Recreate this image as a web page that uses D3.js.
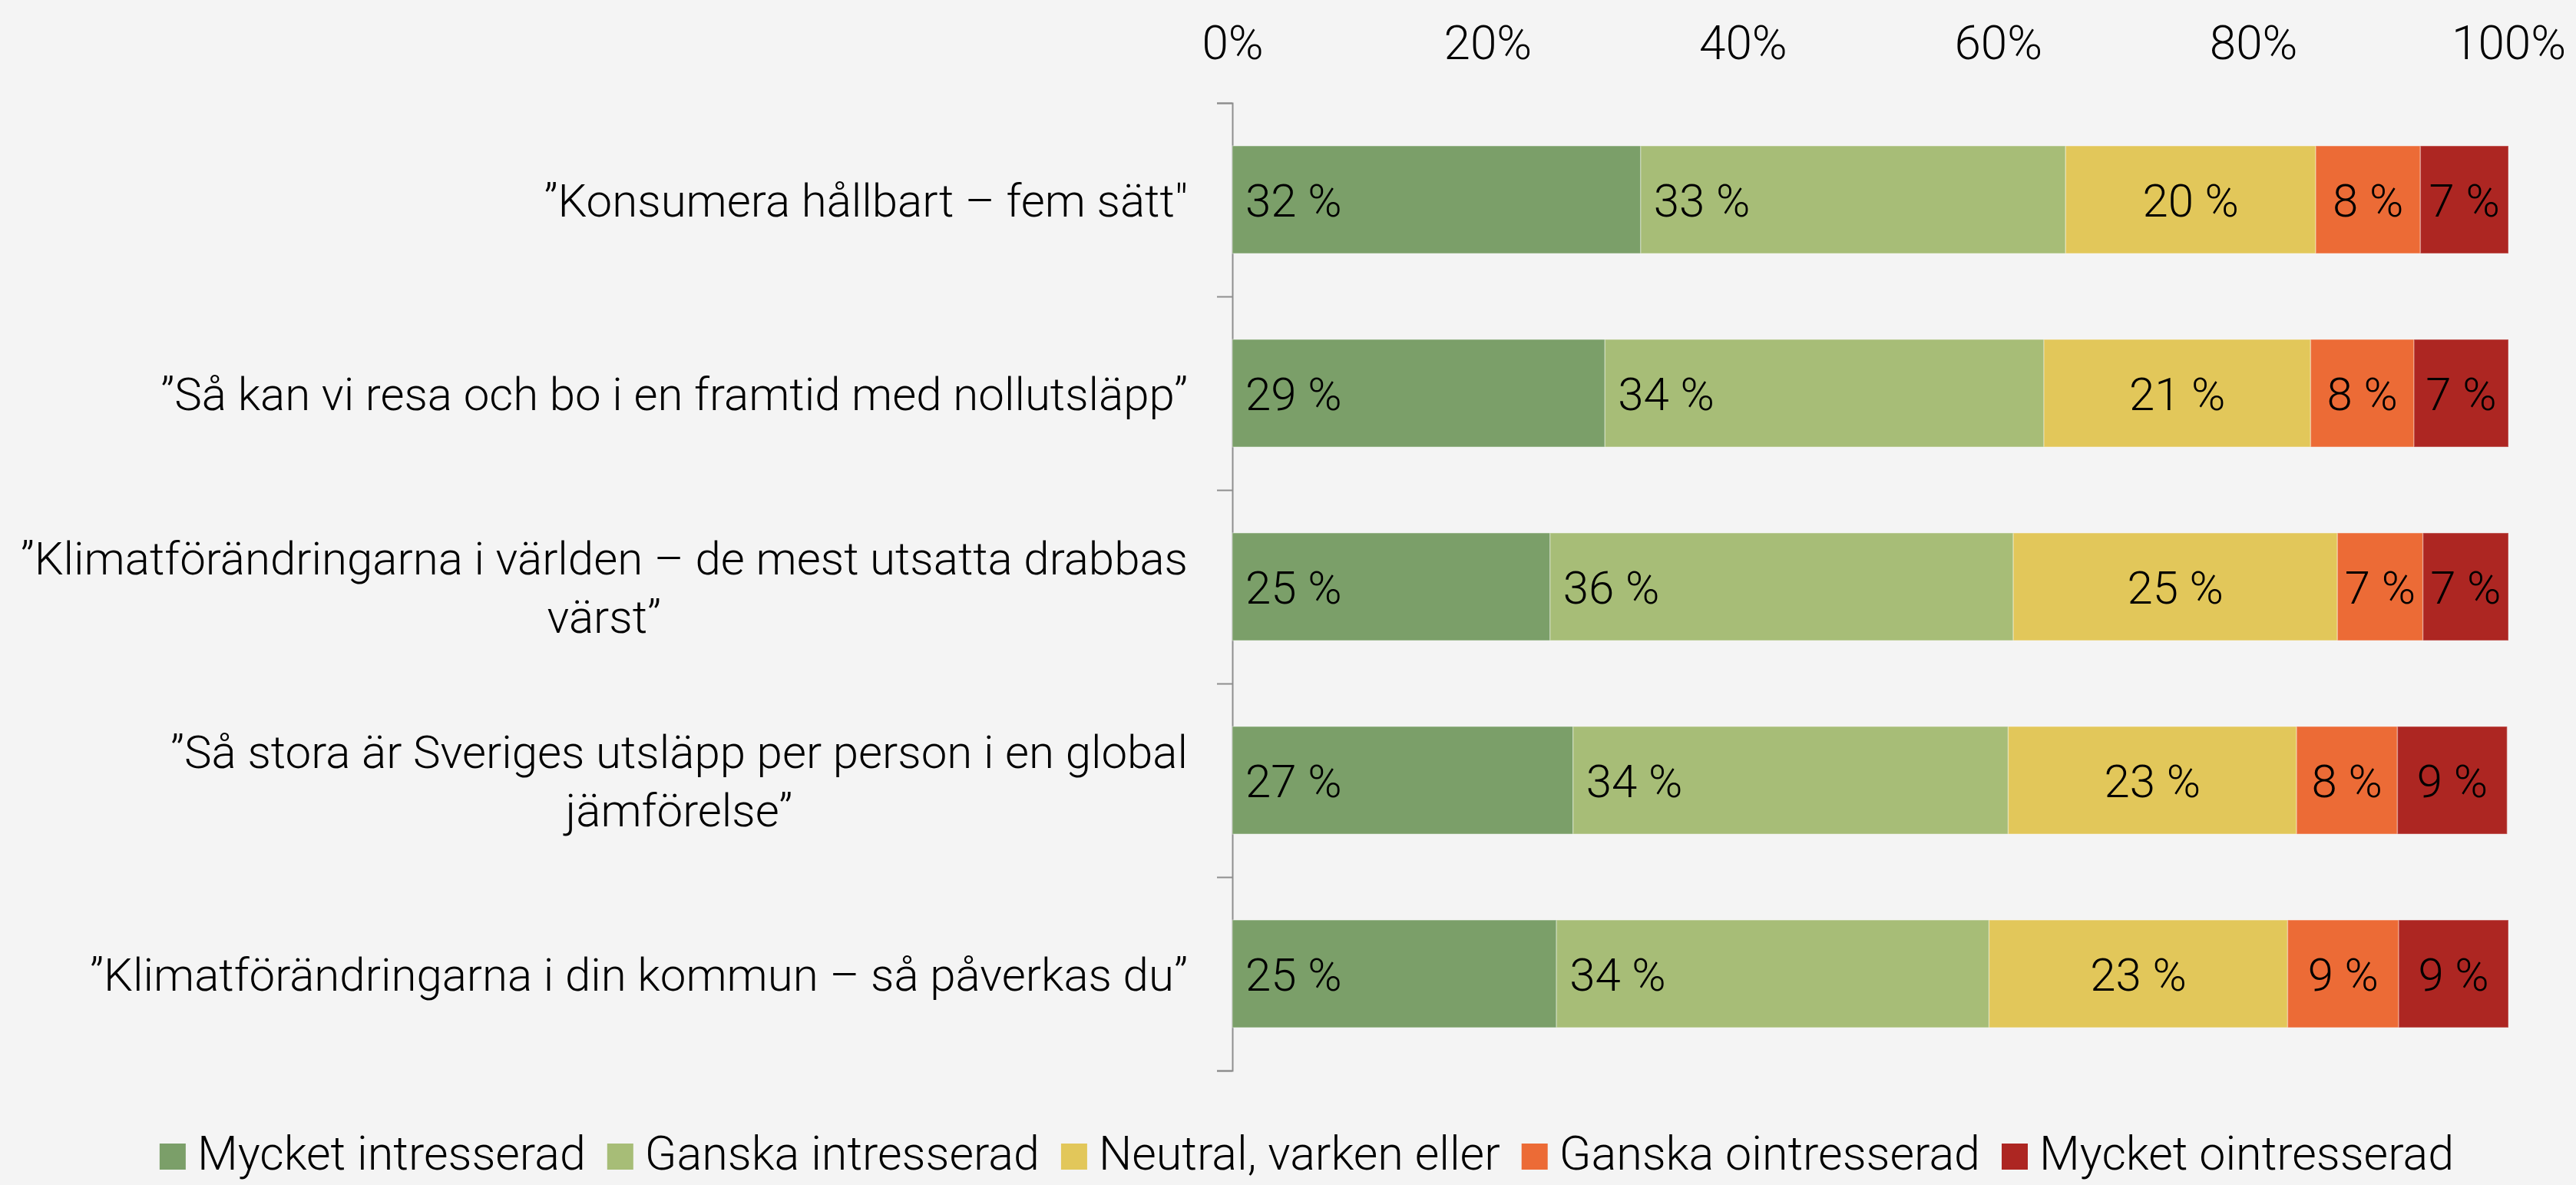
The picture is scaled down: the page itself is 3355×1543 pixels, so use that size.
<!DOCTYPE html>
<html>
<head>
<meta charset="utf-8">
<script src="https://cdn.jsdelivr.net/npm/d3@7"></script>
<style>
  html, body { margin: 0; padding: 0; background: #f4f4f4; }
  text { font-family: "Helvetica Neue", Roboto, "Liberation Sans", sans-serif; font-weight: 300; fill: #000; }
</style>
</head>
<body>
<div class="chart"></div>
<script>
var categories = [
  "”Konsumera hållbart – fem sätt\"",
  "”Så kan vi resa och bo i en framtid med nollutsläpp”",
  "”Klimatförändringarna i världen – de mest utsatta drabbas värst”",
  "”Så stora är Sveriges utsläpp per person i en global jämförelse”",
  "”Klimatförändringarna i din kommun – så påverkas du”"
];
var seriesNames = ["Mycket intresserad", "Ganska intresserad", "Neutral, varken eller", "Ganska ointresserad", "Mycket ointresserad"];
var mycketIntresserad = [32.0, 29.2, 24.9, 26.7, 25.4];
var ganskaIntresserad = [33.3, 34.4, 36.3, 34.1, 33.9];
var neutral = [19.6, 20.9, 25.4, 22.6, 23.4];
var ganskaOintresserad = [8.2, 8.1, 6.7, 7.9, 8.7];
var mycketOintresserad = [6.9, 7.4, 6.7, 8.6, 8.6];
var xTicks = [0, 20, 40, 60, 80, 100];
var colors = ["#7b9f69", "#a7bd77", "#e2c75a", "#ec6b36", "#ad2622"];

var seriesValues = [mycketIntresserad, ganskaIntresserad, neutral, ganskaOintresserad, mycketOintresserad];

var width = 3355, height = 1543;
var plotLeft = 1605, plotRight = 3267, plotTop = 134, plotBottom = 1394;
var labelRight = 1547, wrapWidth = 1545;

var svg = d3.select('div.chart').append('svg')
    .attr('width', width)
    .attr('height', height);

svg.append('rect').attr('width', width).attr('height', height).attr('fill', '#f4f4f4');

var xScale = d3.scaleLinear().domain([0, 100]).range([plotLeft, plotRight]);
var yScale = d3.scaleBand().domain(categories).range([plotTop, plotBottom])
    .paddingInner(0.444).paddingOuter(0.222);

// top axis, labels only
var xAxis = d3.axisTop(xScale).tickValues(xTicks).tickSize(0).tickFormat(function (d) { return d + "%"; });
var xg = svg.append('g').attr('transform', 'translate(0,77)').call(xAxis);
xg.select('.domain').remove();
xg.selectAll('text').attr('y', 0).attr('dy', 0)
  .style('font-size', '62px').style('font-family', null);

// left axis with ticks between the categories
var boundScale = d3.scaleLinear().domain([0, categories.length]).range([plotTop, plotBottom]);
var yAxis = d3.axisLeft(boundScale).tickValues(d3.range(categories.length + 1)).tickSize(20).tickSizeOuter(20).tickFormat("");
var yg = svg.append('g').attr('transform', 'translate(' + plotLeft + ',0)').call(yAxis);
yg.selectAll('path, line').attr('stroke', '#8e8e8e').attr('stroke-width', 2);

// stacked rows
var rows = categories.map(function (c, i) {
  var x0 = 0;
  return seriesValues.map(function (vals, s) {
    var seg = { cat: c, s: s, v: vals[i], x0: x0, x1: x0 + vals[i] };
    x0 += vals[i];
    return seg;
  });
});
var segs = d3.merge(rows);

svg.selectAll('rect.seg')
  .data(segs)
  .enter()
  .append('rect')
  .attr('class', 'seg')
  .attr('x', function (d) { return xScale(d.x0); })
  .attr('width', function (d) { return xScale(d.x1) - xScale(d.x0); })
  .attr('y', function (d) { return yScale(d.cat); })
  .attr('height', yScale.bandwidth())
  .attr('fill', function (d) { return colors[d.s]; })
  .attr('stroke', '#ffffff')
  .attr('stroke-opacity', 0.3)
  .attr('stroke-width', 1.5);

svg.selectAll('text.val')
  .data(segs)
  .enter()
  .append('text')
  .attr('class', 'val')
  .attr('x', function (d) {
    return d.s < 2 ? xScale(d.x0) + 17 : (xScale(d.x0) + xScale(d.x1)) / 2;
  })
  .attr('y', function (d) { return yScale(d.cat) + yScale.bandwidth() / 2 + 22; })
  .attr('text-anchor', function (d) { return d.s < 2 ? 'start' : 'middle'; })
  .style('font-size', '60px')
  .text(function (d) { return Math.round(d.v) + " %"; });

// category labels, wrapped and centred as a block against the axis
var lineHeight = 76;
categories.forEach(function (c) {
  var t = svg.append('text').style('font-size', '60px').attr('text-anchor', 'middle');
  var words = c.split(' ');
  var lines = [], line = [];
  var probe = t.append('tspan');
  words.forEach(function (w) {
    line.push(w);
    probe.text(line.join(' '));
    if (probe.node().getComputedTextLength() > wrapWidth && line.length > 1) {
      line.pop();
      lines.push(line.join(' '));
      line = [w];
    }
  });
  lines.push(line.join(' '));
  probe.remove();
  var widths = lines.map(function (l) {
    var tmp = t.append('tspan').text(l);
    var w = tmp.node().getComputedTextLength();
    tmp.remove();
    return w;
  });
  var cx = labelRight - d3.max(widths) / 2;
  var mid = yScale(c) + yScale.bandwidth() / 2 + 22;
  var first = mid - (lines.length - 1) * lineHeight / 2;
  lines.forEach(function (l, k) {
    t.append('tspan').attr('x', cx).attr('y', first + k * lineHeight).text(l);
  });
});

// legend
var legend = svg.append('g').attr('class', 'legend');
var lx = 0;
seriesNames.forEach(function (name, s) {
  var g = legend.append('g').attr('transform', 'translate(' + lx + ',0)');
  g.append('rect').attr('x', 0).attr('y', -34).attr('width', 34).attr('height', 34).attr('fill', colors[s]);
  var tx = g.append('text').attr('x', 49).attr('y', 0).style('font-size', '61px').text(name);
  lx += 49 + tx.node().getComputedTextLength() + 28;
});
var legendW = lx - 28;
legend.attr('transform', 'translate(' + (1702 - legendW / 2) + ',1523)');
</script>
</body>
</html>
